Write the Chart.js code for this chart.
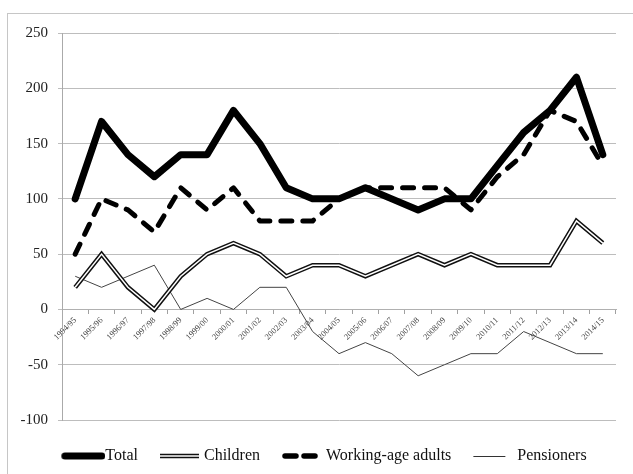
<!DOCTYPE html>
<html>
<head>
<meta charset="utf-8">
<script src="https://cdn.jsdelivr.net/npm/chart.js@4/dist/chart.umd.min.js"></script>
<style>
  html, body { margin: 0; padding: 0; background: #fff; }
  body { width: 633px; height: 474px; position: relative; overflow: hidden; }
  #frame { position: absolute; left: 7px; top: 13px; width: 640px; height: 480px; border-left: 1.5px solid #c6c6c6; border-top: 1.5px solid #c6c6c6; }
  #wrap { position: absolute; left: 0; top: 0; width: 633px; height: 474px; }
</style>
</head>
<body>
<div id="frame"></div>
<div id="wrap"><canvas id="c" width="633" height="474"></canvas></div>
<script>
const categories = ["1994/95","1995/96","1996/97","1997/98","1998/99","1999/00","2000/01","2001/02","2002/03","2003/04","2004/05","2005/06","2006/07","2007/08","2008/09","2009/10","2010/11","2011/12","2012/13","2013/14","2014/15"];
const totalValues      = [100,170,140,120,140,140,180,150,110,100,100,110,100,90,100,100,130,160,180,210,140];
const childrenValues   = [20,50,20,0,30,50,60,50,30,40,40,30,40,50,40,50,40,40,40,80,60];
const workingAgeValues = [50,100,90,70,110,90,110,80,80,80,100,110,110,110,110,90,120,140,180,170,130];
const pensionerValues  = [30,20,30,40,0,10,0,20,20,-20,-40,-30,-40,-60,-50,-40,-40,-20,-30,-40,-40];
const yTicks = [-100,-50,0,50,100,150,200,250];

const LEG_PAD = 18;
const PAD_LEFT = 11;

// legend key image: centred at item x + 20; visible key starts at item x + 4
function legendSymbol(kind) {
  const c = document.createElement('canvas');
  c.width = 56; c.height = 12;
  const g = c.getContext('2d');
  const y = 6;
  g.lineCap = 'round';
  if (kind === 'total') {
    g.strokeStyle = '#000'; g.lineWidth = 7;
    g.beginPath(); g.moveTo(15.5, y); g.lineTo(52.5, y); g.stroke();
  } else if (kind === 'children') {
    g.lineCap = 'butt';
    g.strokeStyle = '#111'; g.lineWidth = 4.5;
    g.beginPath(); g.moveTo(12, y); g.lineTo(51, y); g.stroke();
    g.strokeStyle = '#fff'; g.lineWidth = 1.5;
    g.beginPath(); g.moveTo(12, y); g.lineTo(51, y); g.stroke();
  } else if (kind === 'working') {
    g.strokeStyle = '#000'; g.lineWidth = 5.5;
    g.beginPath(); g.moveTo(15, y); g.lineTo(26, y); g.stroke();
    g.beginPath(); g.moveTo(34, y); g.lineTo(45, y); g.stroke();
  } else {
    g.lineCap = 'butt';
    g.strokeStyle = '#333'; g.lineWidth = 1;
    g.beginPath(); g.moveTo(12, y + 0.5); g.lineTo(44, y + 0.5); g.stroke();
  }
  return c;
}

const serif = "'Liberation Serif', 'Times New Roman', serif";

new Chart(document.getElementById('c'), {
  type: 'line',
  data: {
    labels: categories,
    datasets: [
      { label: 'Total', data: totalValues, borderColor: '#000', borderWidth: 7,
        borderCapStyle: 'round', borderJoinStyle: 'round', pointRadius: 0, pointHoverRadius: 0,
        pointStyle: legendSymbol('total'), tension: 0, xAxisID: 'x', yAxisID: 'y' },
      { label: '_childrenInner', data: childrenValues, borderColor: '#fff', borderWidth: 1.5,
        borderJoinStyle: 'miter', pointRadius: 0, pointHoverRadius: 0, tension: 0, xAxisID: 'x', yAxisID: 'y' },
      { label: 'Children', data: childrenValues, borderColor: '#111', borderWidth: 4.5,
        borderJoinStyle: 'miter', pointRadius: 0, pointHoverRadius: 0,
        pointStyle: legendSymbol('children'), tension: 0, xAxisID: 'x', yAxisID: 'y' },
      { label: 'Working-age adults', data: workingAgeValues, borderColor: '#000', borderWidth: 5,
        borderDash: [11, 11], borderCapStyle: 'round', borderJoinStyle: 'round', pointRadius: 0, pointHoverRadius: 0,
        pointStyle: legendSymbol('working'), tension: 0, xAxisID: 'x', yAxisID: 'y' },
      { label: 'Pensioners', data: pensionerValues, borderColor: '#444', borderWidth: 1,
        pointRadius: 0, pointHoverRadius: 0,
        pointStyle: legendSymbol('pensioners'), tension: 0, xAxisID: 'x', yAxisID: 'y' }
    ]
  },
  options: {
    responsive: false,
    animation: false,
    events: [],
    layout: { padding: { left: PAD_LEFT, right: 0, top: 33, bottom: 0 } },
    plugins: {
      tooltip: { enabled: false },
      legend: {
        position: 'bottom',
        align: 'center',
        labels: {
          usePointStyle: true,
          pointStyleWidth: 40,
          padding: LEG_PAD,
          color: '#111',
          font: { family: serif, size: 16 },
          filter: (item) => !item.text.startsWith('_')
        }
      }
    },
    scales: {
      x: {
        type: 'category',
        position: { y: 0 },
        offset: true,
        grid: { display: true, drawOnChartArea: false, drawTicks: true, tickLength: 4, offset: true, color: '#a0a0a0' },
        border: { display: true, color: '#b0b0b0' },
        ticks: { autoSkip: false, minRotation: 45, maxRotation: 45, padding: 2, color: '#444',
                 font: { family: serif, size: 8.5 } }
      },
      xPad: {
        type: 'category',
        position: 'bottom',
        display: true,
        grid: { display: false },
        border: { display: false },
        ticks: { display: false },
        afterFit: (s) => { s.height = 28 - LEG_PAD; }
      },
      y: {
        type: 'linear',
        position: 'left',
        min: -100,
        max: 250,
        afterBuildTicks: (s) => { s.ticks = yTicks.map(v => ({ value: v })); },
        grid: { color: '#bdbdbd', lineWidth: 1, tickLength: 4, drawTicks: true },
        border: { display: true, color: '#aaaaaa' },
        ticks: { padding: 10, color: '#222', font: { family: serif, size: 15 } },
        afterFit: (s) => { s.width = 62 - PAD_LEFT; }
      },
      yR: {
        type: 'linear',
        position: 'right',
        display: true,
        grid: { display: false },
        border: { display: false },
        ticks: { display: false },
        afterFit: (s) => { s.width = 17; }
      }
    }
  }
});
</script>
</body>
</html>
